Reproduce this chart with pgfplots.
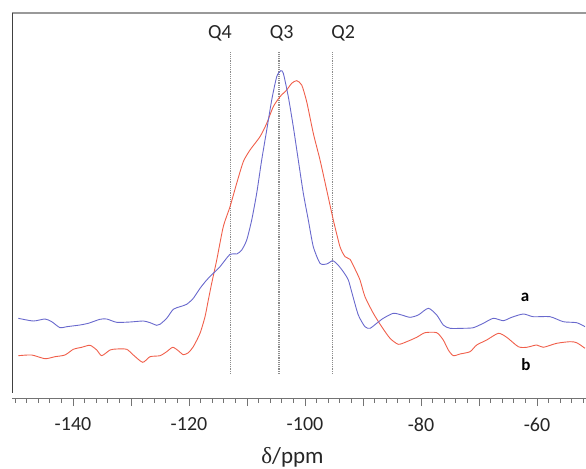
\documentclass[border=0pt]{standalone}
\usepackage{fontspec}
\setmainfont{Carlito}
\newfontfamily\greekfont{Liberation Serif}
\usepackage{pgfplots}
\usepackage{pgfplotstable}
\pgfplotsset{compat=1.18}
\definecolor{specblue}{RGB}{105,105,205}
\definecolor{specred}{RGB}{240,95,75}

\pgfplotstableread{
ppm I
-149.43 79.7
-146.85 77
-144.83 79
-143.67 76.3
-142.24 70.3
-141.09 71.3
-138.79 73
-137.36 74.7
-135.34 78.7
-134.19 79
-132.47 75.7
-130.17 76
-127.88 77
-126.72 75.3
-125.57 72.7
-125.00 73.7
-123.85 79.7
-122.71 88.7
-121.55 91.3
-120.40 93.7
-119.26 99.7
-118.10 109.7
-116.95 118
-115.81 124.7
-114.66 131.3
-112.93 143.7
-111.78 144
-110.91 148
-110.05 158
-109.19 178
-108.33 204.7
-107.47 238
-106.60 268
-105.74 298
-104.88 321.3
-104.19 327.3
-103.74 324.7
-102.88 301.3
-102.02 271.3
-101.16 238
-100.29 204.7
-99.43 178
-98.57 151.3
-97.41 134.7
-96.26 134
-95.22 137.3
-94.31 133
-93.40 126.3
-92.53 118
-91.90 105
-90.81 83
-89.66 71.3
-88.79 69.7
-87.64 74.7
-86.50 79.7
-84.78 84.7
-83.33 83
-81.90 80.7
-80.47 83
-78.74 89.7
-77.29 83
-76.16 73
-75.00 69.7
-72.71 69.7
-70.98 70.3
-69.26 74.7
-67.53 79.7
-65.81 77.3
-64.36 80.7
-62.36 84
-60.64 81.3
-57.76 81.3
-55.47 76.3
-53.16 75.3
-51.72 71.3
}\blue

\pgfplotstableread{
ppm I
-149.43 42.3
-147.12 43
-144.83 39.3
-143.10 41.3
-141.38 43
-139.95 48.7
-138.50 50.7
-137.07 52.7
-135.91 48
-135.05 42.3
-133.62 48
-132.47 49
-130.74 48.7
-129.60 43
-127.98 35.7
-126.72 41.3
-125.00 42.3
-123.85 46.3
-122.81 50.7
-121.85 47.3
-120.98 43.3
-120.12 45.3
-119.26 51.3
-118.10 64.7
-117.24 81.3
-116.67 98
-116.09 114.7
-115.22 138
-114.09 171.3
-112.93 191.3
-111.78 214.7
-110.64 236.3
-109.48 248
-107.76 261.3
-106.60 274.7
-105.47 291.3
-104.31 301.3
-103.16 308
-102.29 314.7
-101.43 317.3
-100.57 313
-99.71 296.3
-98.57 264.7
-97.41 238
-96.26 208
-95.12 178
-93.97 151.3
-93.10 141.3
-92.24 138.7
-91.38 129
-90.52 118
-89.66 101.3
-88.22 84.7
-86.78 71.3
-85.34 59.7
-83.91 53.7
-82.47 56.3
-80.74 60.7
-79.31 65.3
-77.29 65.3
-76.16 58
-75.29 48
-74.43 42.3
-73.28 44
-71.55 46.3
-70.40 53
-68.67 58
-66.67 64.7
-65.22 60.7
-63.22 51.3
-61.78 50.7
-60.05 53
-58.91 50.7
-56.60 54.7
-54.31 56.3
-53.16 55.3
-51.72 49.7
}\red

\begin{document}
\begin{tikzpicture}
\path[use as bounding box] (0,0) rectangle (586bp,469bp);
\begin{axis}[
  at={(12bp,71bp)}, anchor=south west,
  scale only axis, width=574bp, height=385bp,
  xmin=-150.52, xmax=-51.55, ymin=0, ymax=385,
  axis x line*=bottom, axis y line=none,
  x axis line style={draw=black!55, line width=0.9bp},
  xtick={-140,-130,...,-60},
  xticklabels={-140,,-120,,-100,,-80,,-60},
  minor xtick={-150,-148,...,-52},
  tick align=outside,
  major tick length=8bp, minor tick length=4.5bp,
  every tick/.style={black!55, line width=0.7bp},
  every minor tick/.style={black!55, line width=0.7bp},
  ytick=\empty,
  xticklabel style={font=\fontsize{20bp}{24bp}\selectfont, text=black!85, yshift=-8bp},
  clip=true,
]
\draw[black!40, line width=1.2bp] (rel axis cs:0,1) -- (rel axis cs:1,1);
\draw[black!75, line width=1.1bp] (rel axis cs:0,0.013) -- (rel axis cs:0,1);

\addplot[black!45, line width=1.4bp, dash pattern=on 1.1bp off 1.1bp] coordinates {(-112.8,24) (-112.8,347)};
\addplot[black!45, line width=1.4bp, dash pattern=on 1.1bp off 1.1bp] coordinates {(-104.5,24) (-104.5,347)};
\addplot[black!45, line width=1.4bp, dash pattern=on 1.1bp off 1.1bp] coordinates {(-95.3,24) (-95.3,347)};

\addplot[specred, line width=0.9bp, smooth, tension=0.4] table[x=ppm, y=I] {\red};
\addplot[specblue, line width=0.9bp, smooth, tension=0.4] table[x=ppm, y=I] {\blue};

\node[font=\fontsize{20bp}{24bp}\selectfont, text=black!85] at (axis cs:-114.66,365) {Q4};
\node[font=\fontsize{20bp}{24bp}\selectfont, text=black!85] at (axis cs:-104.02,365) {Q3};
\node[font=\fontsize{20bp}{24bp}\selectfont, text=black!85] at (axis cs:-93.40,365) {Q2};
\node[font=\bfseries\fontsize{17bp}{20bp}\selectfont] at (axis cs:-62.07,100.3) {a};
\node[font=\bfseries\fontsize{17bp}{20bp}\selectfont] at (axis cs:-61.9,33) {b};
\end{axis}
\node[anchor=base, font=\fontsize{23bp}{27bp}\selectfont, text=black!85] at (292.5bp,6bp) {{\greekfont δ}/ppm};
\end{tikzpicture}
\end{document}
